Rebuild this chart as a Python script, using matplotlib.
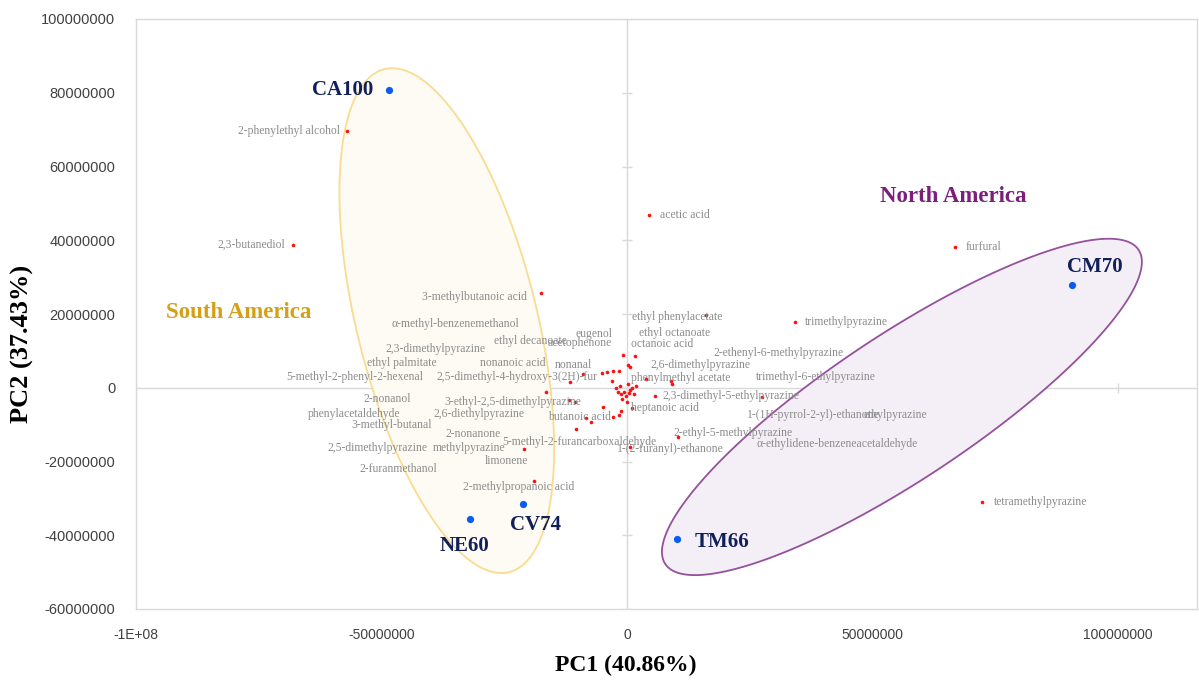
import numpy as np
import matplotlib.pyplot as plt

# PCA scores of the coffee samples (PC1, PC2), in millions
samples = ["CA100", "CM70", "CV74", "NE60", "TM66"]
sample_pc1 = np.array([-48.5, 90.6, -21.2, -32.0, 10.2]) * 1e6
sample_pc2 = np.array([80.8, 27.9, -31.5, -35.5, -41.0]) * 1e6

# loadings of the volatile compounds, in millions
compounds = [
    "2-phenylethyl alcohol", "2,3-butanediol", "acetic acid", "furfural",
    "trimethylpyrazine", "tetramethylpyrazine", "3-methylbutanoic acid",
    "ethyl phenylacetate", "1-(1H-pyrrol-2-yl)-ethanone",
    "octanoic acid", "ethyl octanoate", "2,6-dimethylpyrazine", "nonanoic acid",
    "ethyl decanoate", "acetophenone", "eugenol", "α-methyl-benzenemethanol",
    "2,3-dimethylpyrazine", "nonanal", "ethylpyrazine",
    "2-ethenyl-6-methylpyrazine", "trimethyl-6-ethylpyrazine",
    "phenylmethyl acetate", "2,3-dimethyl-5-ethylpyrazine",
    "α-ethylidene-benzeneacetaldehyde", "heptanoic acid",
    "5-methyl-2-furancarboxaldehyde", "2-nonanone", "3-methyl-butanal",
    "butanoic acid", "2,6-diethylpyrazine", "3-ethyl-2,5-dimethylpyrazine",
    "phenylacetaldehyde", "2-ethyl-5-methylpyrazine", "1-(2-furanyl)-ethanone",
    "2-nonanol", "5-methyl-2-phenyl-2-hexenal", "ethyl palmitate",
    "2,5-dimethylpyrazine", "2-methylpropanoic acid", "methylpyrazine",
    "limonene", "2-furanmethanol", "2,5-dimethyl-4-hydroxy-3(2H)-fur",
]
comp_pc1 = np.array([
    -57.0, -68.0, 4.5, 66.8,
    34.2, 72.3, -17.5,
    16.1, 27.5,
    -0.8, 1.6, 0.6, -5.1,
    -4.1, -2.9, -1.6, -9.0,
    -11.6, -3.1, 3.9,
    9.0, 9.2,
    1.8, 5.7,
    1.4, 1.0,
    -4.9, -1.2, -1.6,
    -2.9, -7.3, -8.4,
    -10.4, 10.4, 0.6,
    -10.6, -11.8, -16.5,
    -21.0, -18.9, -0.6,
    -1.8, -0.2, -2.2,
]) * 1e6
comp_pc2 = np.array([
    69.7, 38.8, 46.9, 38.2,
    17.9, -30.9, 25.8,
    19.8, -2.4,
    8.9, 8.7, 5.7, 4.1,
    4.3, 4.6, 4.6, 3.8,
    1.6, 1.9, 2.4,
    1.9, 1.1,
    0.5, -2.2,
    -1.6, -5.4,
    -5.2, -6.2, -7.3,
    -7.9, -9.2, -8.1,
    -11.1, -13.3, -16.0,
    -3.8, -3.3, -1.1,
    -16.5, -25.2, -1.1,
    -1.1, -2.2, 0.0,
]) * 1e6

# further compounds near the origin, shown without a label
minor_pc1 = np.array([0.2, -1.4, 0.2, 0.6, -1.0, 1.0, 0.0, -1.2, 0.4]) * 1e6
minor_pc2 = np.array([6.2, 0.5, 1.1, -0.5, -3.0, 0.0, -3.8, -1.6, -1.4]) * 1e6

x_ticks = [-1e8, -5e7, 0, 5e7, 1e8]
x_tick_labels = ["-1E+08", "-50000000", "0", "50000000", "100000000"]
y_ticks = np.arange(-6e7, 1.01e8, 2e7)
y_tick_labels = ["%d" % v for v in y_ticks]

# group ellipses: centre, semi-axis vectors (data units)
groups = {
    "South America": dict(c=(-36.7e6, 18.2e6), u=(12.7e6, -68.2e6), v=(17.8e6, 5.9e6),
                          face="#fdfbf3", edge="#f9dc8f", text="#d4a017",
                          label_xy=(-93.9e6, 20.3e6)),
    "North America": dict(c=(56.0e6, -5.2e6), u=(48.2e6, 42.6e6), v=(8.1e6, -16.3e6),
                          face="#f4eef6", edge="#94519c", text="#7b1f7b",
                          label_xy=(51.6e6, 51.8e6)),
}

# label placement: (dx px, dy px, horizontal alignment)
sample_offset = {
    "CA100": (-16, 0, "right"), "CM70": (23, 18, "center"),
    "CV74": (13, -21, "center"), "NE60": (-5, -27, "center"),
    "TM66": (18, -3, "left"),
}
label_offset = {
    "2-phenylethyl alcohol": (-7, 0, "right"), "2,3-butanediol": (-8, 0, "right"),
    "acetic acid": (11, 0, "left"), "furfural": (11, 0, "left"),
    "trimethylpyrazine": (10, 0, "left"), "tetramethylpyrazine": (12, 0, "left"),
    "3-methylbutanoic acid": (-14, -4, "right"), "ethyl phenylacetate": (-74, -2, "left"),
    "1-(1H-pyrrol-2-yl)-ethanone": (-15, -18, "left"),
    "octanoic acid": (8, 11, "left"), "ethyl octanoate": (4, 23, "left"),
    "2,6-dimethylpyrazine": (21, 2, "left"), "nonanoic acid": (-122, 10, "left"),
    "ethyl decanoate": (-113, 31, "left"), "acetophenone": (-65, 28, "left"),
    "eugenol": (-44, 37, "left"), "α-methyl-benzenemethanol": (-64, 50, "right"),
    "2,3-dimethylpyrazine": (-85, 33, "right"), "nonanal": (-57, 16, "left"),
    "ethylpyrazine": (217, -36, "left"), "2-ethenyl-6-methylpyrazine": (42, 28, "left"),
    "trimethyl-6-ethylpyrazine": (84, 7, "left"), "phenylmethyl acetate": (-5, 8, "left"),
    "2,3-dimethyl-5-ethylpyrazine": (7, 0, "left"),
    "α-ethylidene-benzeneacetaldehyde": (123, -50, "left"),
    "heptanoic acid": (-1, 0, "left"), "5-methyl-2-furancarboxaldehyde": (-101, -35, "left"),
    "2-nonanone": (-176, -23, "left"), "3-methyl-butanal": (-187, -10, "right"),
    "butanoic acid": (-65, 0, "left"), "2,6-diethylpyrazine": (-158, 8, "left"),
    "3-ethyl-2,5-dimethylpyrazine": (-141, 16, "left"),
    "phenylacetaldehyde": (-176, 15, "right"), "2-ethyl-5-methylpyrazine": (-5, 4, "left"),
    "1-(2-furanyl)-ethanone": (-13, -2, "left"), "2-nonanol": (-164, 3, "right"),
    "5-methyl-2-phenyl-2-hexenal": (-146, 23, "right"), "ethyl palmitate": (-109, 29, "right"),
    "2,5-dimethylpyrazine": (-96, 1, "right"), "2-methylpropanoic acid": (-71, -6, "left"),
    "methylpyrazine": (-191, -56, "left"), "limonene": (-133, -69, "left"),
    "2-furanmethanol": (-189, -73, "right"),
    "2,5-dimethyl-4-hydroxy-3(2H)-fur": (-180, 11, "left"),
}

SERIF = ["Liberation Serif", "DejaVu Serif"]
GRID_GREY = "#d9d9d9"

fig = plt.figure(figsize=(11.99, 6.81), dpi=100)
ax = fig.add_axes([136 / 1199, 1 - 609 / 681, 1061 / 1199, 590 / 681])
ax.set_xlim(-1e8, 1.161e8)
ax.set_ylim(-6e7, 1e8)

# ellipses around the two origins
t = np.linspace(0, 2 * np.pi, 300)
for name, g in groups.items():
    ex = g["c"][0] + np.cos(t) * g["u"][0] + np.sin(t) * g["v"][0]
    ey = g["c"][1] + np.cos(t) * g["u"][1] + np.sin(t) * g["v"][1]
    ax.fill(ex, ey, facecolor=g["face"], edgecolor=g["edge"], linewidth=1.3, zorder=1)
    ax.text(*g["label_xy"], name, color=g["text"], fontsize=16.5, fontweight="bold",
            family=SERIF, ha="left", va="center", zorder=4)

# axes through the origin with cross ticks
ax.axhline(0, color=GRID_GREY, lw=1, zorder=0.5)
ax.axvline(0, color=GRID_GREY, lw=1, zorder=0.5)
ax.plot(x_ticks, np.zeros(len(x_ticks)), ls="none", marker="|", ms=7, mew=1,
        color=GRID_GREY, zorder=0.5)
ax.plot(np.zeros(len(y_ticks)), y_ticks, ls="none", marker="_", ms=7, mew=1,
        color=GRID_GREY, zorder=0.5)

# compound loadings
ax.plot(comp_pc1, comp_pc2, ls="none", marker="o", ms=2.6, mew=0, color="#ff1010", zorder=3)
ax.plot(minor_pc1, minor_pc2, ls="none", marker="o", ms=2.6, mew=0, color="#ff1010", zorder=3)
for name, x, y in zip(compounds, comp_pc1, comp_pc2):
    dx, dy, ha = label_offset[name]
    ax.annotate(name, (x, y), xytext=(dx, dy), textcoords="offset pixels",
                ha=ha, va="center", fontsize=8.4, color="#8c8c8c", family=SERIF, zorder=4)

# sample scores
ax.plot(sample_pc1, sample_pc2, ls="none", marker="o", ms=5.2, mew=0, color="#0a5cf0", zorder=5)
for name, x, y in zip(samples, sample_pc1, sample_pc2):
    dx, dy, ha = sample_offset[name]
    ax.annotate(name, (x, y), xytext=(dx, dy), textcoords="offset pixels",
                ha=ha, va="center", fontsize=15, fontweight="bold", color="#12205a",
                family=SERIF, zorder=5)

for sp in ax.spines.values():
    sp.set_color(GRID_GREY)
    sp.set_linewidth(1)

ax.set_xticks(x_ticks)
ax.set_xticklabels(x_tick_labels, family=["Liberation Sans Narrow", "Liberation Sans"],
                   fontsize=10, color="#404040")
ax.set_yticks(y_ticks)
ax.set_yticklabels(y_tick_labels, family="Liberation Sans", fontsize=10.5, color="#404040")
ax.tick_params(axis="both", length=0)
ax.tick_params(axis="x", pad=14)
ax.tick_params(axis="y", pad=15)

ax.set_xlabel("PC1 (40.86%)", family=SERIF, fontsize=17, fontweight="bold")
ax.xaxis.set_label_coords(0.462, -0.095)
ax.xaxis.label.set_va("center")
ax.set_ylabel("PC2 (37.43%)", family=SERIF, fontsize=19, fontweight="bold")
ax.yaxis.set_label_coords(-0.107, 0.449)
ax.yaxis.label.set_va("center")

fig.savefig("out.png", dpi=100)
